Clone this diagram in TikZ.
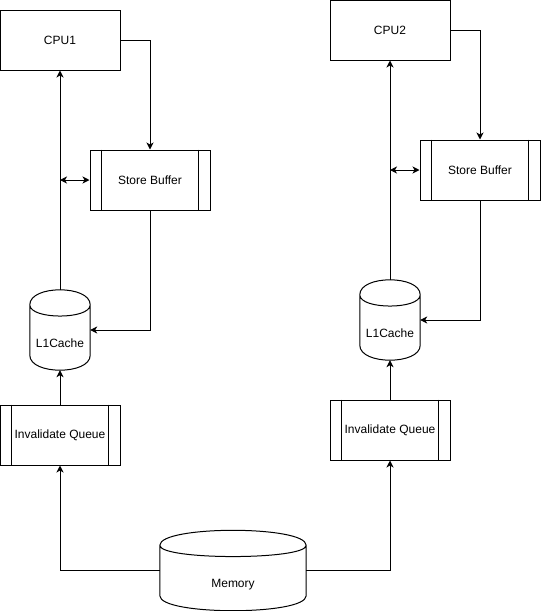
\documentclass[tikz,border=0pt]{standalone}
\usepackage{fontspec}
\setmainfont{Liberation Sans}
\usetikzlibrary{arrows.meta,calc}
\tikzset{
  box/.style={draw, line width=1pt, minimum width=120pt, minimum height=60pt, inner sep=0pt, font=\fontsize{12}{14}\selectfont},
  proc/.style={box},
  cylnode/.style={inner sep=0pt, minimum width=60pt, minimum height=80pt},
  txt/.style={inner sep=0pt, font=\fontsize{12}{14}\selectfont},
  line/.style={line width=1pt},
  arr/.style={line width=1pt, -{Stealth[length=7pt,width=7pt,inset=2pt]}},
  darr/.style={line width=1pt, {Stealth[length=7pt,width=7pt,inset=2pt]}-{Stealth[length=7pt,width=7pt,inset=2pt]}}
}
\newcommand\procbars[1]{%
  \draw[line] ([xshift=12pt]#1.north west) -- ([xshift=12pt]#1.south west);
  \draw[line] ([xshift=-12pt]#1.north east) -- ([xshift=-12pt]#1.south east);
}
\newcommand\drawcyl[1]{%
  \draw[line] let \p1=(#1.north west), \p2=(#1.south east) in
    ({\x1},{\y1-15pt}) .. controls ({\x1},{\y1+5pt}) and ({\x2},{\y1+5pt}) .. ({\x2},{\y1-15pt})
    -- ({\x2},{\y2+15pt}) .. controls ({\x2},{\y2-5pt}) and ({\x1},{\y2-5pt}) .. ({\x1},{\y2+15pt}) -- cycle
    ({\x1},{\y1-15pt}) .. controls ({\x1},{\y1-30pt}) and ({\x2},{\y1-30pt}) .. ({\x2},{\y1-15pt});
}
\begin{document}
\begin{tikzpicture}[x=1pt,y=-1pt]
\useasboundingbox (0,0) rectangle (541,611);
% left column
\node[box] (cpu1) at (60,40) {CPU1};
\node[proc] (sb1) at (150,180) {Store Buffer};
\procbars{sb1}
\node[cylnode] (l1a) at (60,330) {};
\drawcyl{l1a}
\node[txt] (l1at) at ([yshift=-13pt]l1a.center) {L1Cache};
\node[proc] (iq1) at (60,435) {Invalidate Queue};
\procbars{iq1}
% right column
\node[box] (cpu2) at (390,30) {CPU2};
\node[proc] (sb2) at (480,170) {Store Buffer};
\procbars{sb2}
\node[cylnode] (l1b) at (390,320) {};
\drawcyl{l1b}
\node[txt] (l1bt) at ([yshift=-13pt]l1b.center) {L1Cache};
\node[proc] (iq2) at (390,430) {Invalidate Queue};
\procbars{iq2}
% memory
\node[cylnode, minimum width=146pt] (mem) at (233,570.5) {};
\drawcyl{mem}
\node[txt] (memt) at ([yshift=-14.5pt]mem.center) {Memory};
% junctions
\coordinate (j1) at (60,180);
\coordinate (j2) at (390,170);
% connectors left
\draw[arr] (cpu1.east) -| (sb1.north);
\draw[arr] (l1a.north) -- (cpu1.south);
\draw[darr] (j1) -- (sb1.west);
\draw[arr] (sb1.south) |- (l1a.east);
\draw[arr] (iq1.north) -- (l1a.south);
\draw[arr] (mem.west) -| (iq1.south);
% connectors right
\draw[arr] (cpu2.east) -| (sb2.north);
\draw[arr] (l1b.north) -- (cpu2.south);
\draw[darr] (j2) -- (sb2.west);
\draw[arr] (sb2.south) |- (l1b.east);
\draw[arr] (iq2.north) -- (l1b.south);
\draw[arr] (mem.east) -| (iq2.south);
\end{tikzpicture}
\end{document}
